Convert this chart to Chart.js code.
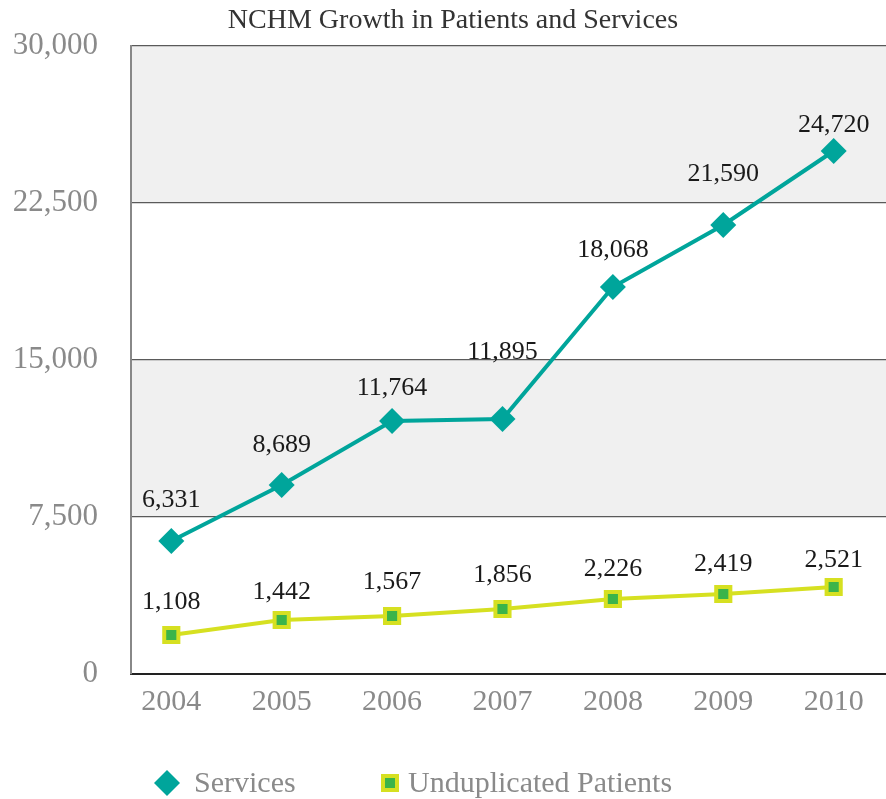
<!DOCTYPE html>
<html>
<head>
<meta charset="utf-8">
<title>NCHM Growth in Patients and Services</title>
<script src="https://cdn.jsdelivr.net/npm/chart.js@4.4.1/dist/chart.umd.min.js"></script>
<style>
  html, body { margin: 0; padding: 0; background: #fff; overflow: hidden; }
  #wrap { position: relative; width: 886px; height: 799px; }
  #wrap canvas { display: block; }
</style>
</head>
<body>
<div id="wrap"><canvas id="growthChart"></canvas></div>
<script>
// --- DATA ---
const years = [2004, 2005, 2006, 2007, 2008, 2009, 2010];
// values as plotted in the picture
const services = [6354, 9029, 12086, 12182, 18487, 21449, 24984];
const patients = [1863, 2580, 2771, 3105, 3583, 3822, 4156];
// value labels printed above each point
const serviceLabels = ['6,331', '8,689', '11,764', '11,895', '18,068', '21,590', '24,720'];
const patientLabels = ['1,108', '1,442', '1,567', '1,856', '2,226', '2,419', '2,521'];
const yTicks = [0, 7500, 15000, 22500, 30000];

const TITLE = 'NCHM Growth in Patients and Services';
const SERIF = "'Liberation Serif', 'DejaVu Serif', serif";
const TEAL = '#00a59b';
const LIME = '#d6e021';
const GREEN = '#3bb44a';

// label lift above each point (px)
const serviceLift = [43, 42, 35, 69, 39, 53, 28];
const patientLift = [35, 30, 36, 36, 32, 32, 29];

// --- PLUGINS ---
const bands = {
    id: 'bands',
    beforeDraw(chart) {
        const { ctx, chartArea: a, scales: { y } } = chart;
        ctx.save();
        ctx.fillStyle = '#f0f0f0';
        [[22500, 30000], [7500, 15000]].forEach(([lo, hi]) => {
            const top = y.getPixelForValue(hi), bot = y.getPixelForValue(lo);
            ctx.fillRect(a.left, top, a.right - a.left, bot - top);
        });
        ctx.restore();
    }
};

const valueLabels = {
    id: 'valueLabels',
    afterDatasetsDraw(chart) {
        const { ctx } = chart;
        const sets = [[serviceLabels, serviceLift], [patientLabels, patientLift]];
        ctx.save();
        ctx.font = `26px ${SERIF}`;
        ctx.fillStyle = '#1a1a1a';
        ctx.textAlign = 'center';
        ctx.textBaseline = 'alphabetic';
        sets.forEach(([labels, lift], di) => {
            chart.getDatasetMeta(di).data.forEach((pt, i) => {
                ctx.fillText(labels[i], pt.x, pt.y - lift[i] + 9);
            });
        });
        ctx.restore();
    }
};

const titleAndLegend = {
    id: 'titleAndLegend',
    afterDraw(chart) {
        const { ctx } = chart;
        ctx.save();
        // Title
        ctx.font = `28px ${SERIF}`;
        ctx.fillStyle = '#333';
        ctx.textAlign = 'center';
        ctx.textBaseline = 'middle';
        ctx.fillText(TITLE, 453, 21);

        // Legend
        const ly = 783;
        ctx.fillStyle = TEAL;
        ctx.beginPath();
        ctx.moveTo(167, ly - 13); ctx.lineTo(180, ly); ctx.lineTo(167, ly + 13); ctx.lineTo(154, ly);
        ctx.closePath();
        ctx.fill();

        ctx.fillStyle = LIME;
        ctx.fillRect(381, ly - 9, 18, 18);
        ctx.fillStyle = GREEN;
        ctx.fillRect(385, ly - 5, 10, 10);

        ctx.font = `30px ${SERIF}`;
        ctx.fillStyle = '#8a8a8a';
        ctx.textAlign = 'left';
        ctx.fillText(chart.data.datasets[0].label, 194, ly + 1);
        ctx.fillText(chart.data.datasets[1].label, 408, ly + 1);
        ctx.restore();
    }
};

// --- CHART ---
new Chart(document.getElementById('growthChart'), {
    type: 'line',
    data: {
        datasets: [
            {
                label: 'Services',
                data: years.map((yr, i) => ({ x: yr, y: services[i] })),
                borderColor: TEAL,
                backgroundColor: TEAL,
                borderWidth: 4,
                pointStyle: 'rectRot',
                pointRadius: 13,
                pointBorderWidth: 0,
                tension: 0
            },
            {
                label: 'Unduplicated Patients',
                data: years.map((yr, i) => ({ x: yr, y: patients[i] })),
                borderColor: LIME,
                backgroundColor: GREEN,
                pointBorderColor: LIME,
                borderWidth: 4,
                pointStyle: 'rect',
                pointRadius: 10,
                pointBorderWidth: 4,
                tension: 0
            }
        ]
    },
    options: {
        responsive: true,
        maintainAspectRatio: false,
        animation: false,
        layout: { autoPadding: false, padding: { top: 46, right: 0, left: 0, bottom: 0 } },
        plugins: {
            legend: { display: false },
            title: { display: false },
            tooltip: { enabled: false }
        },
        scales: {
            x: {
                type: 'linear',
                min: 2003.635,
                max: 2010.474,
                afterBuildTicks: s => { s.ticks = years.map(v => ({ value: v })); },
                afterFit: s => { s.height = 125; s.paddingLeft = 0; s.paddingRight = 0; },
                grid: { display: false, drawTicks: false },
                border: { display: true, color: '#222', width: 2 },
                ticks: {
                    padding: 10,
                    color: '#8a8a8a',
                    font: { family: SERIF, size: 30 },
                    callback: v => String(v)
                }
            },
            y: {
                min: 0,
                max: 30000,
                afterBuildTicks: s => { s.ticks = yTicks.map(v => ({ value: v })); },
                afterFit: s => { s.width = 131; s.paddingTop = 0; s.paddingBottom = 0; },
                grid: { color: '#5a5a5a', lineWidth: 1.2, drawTicks: false },
                border: { display: true, color: '#888', width: 2 },
                ticks: {
                    padding: 33,
                    color: '#8a8a8a',
                    font: { family: SERIF, size: 31 },
                    callback: v => v.toLocaleString('en-US')
                }
            }
        }
    },
    plugins: [bands, valueLabels, titleAndLegend]
});
</script>
</body>
</html>
